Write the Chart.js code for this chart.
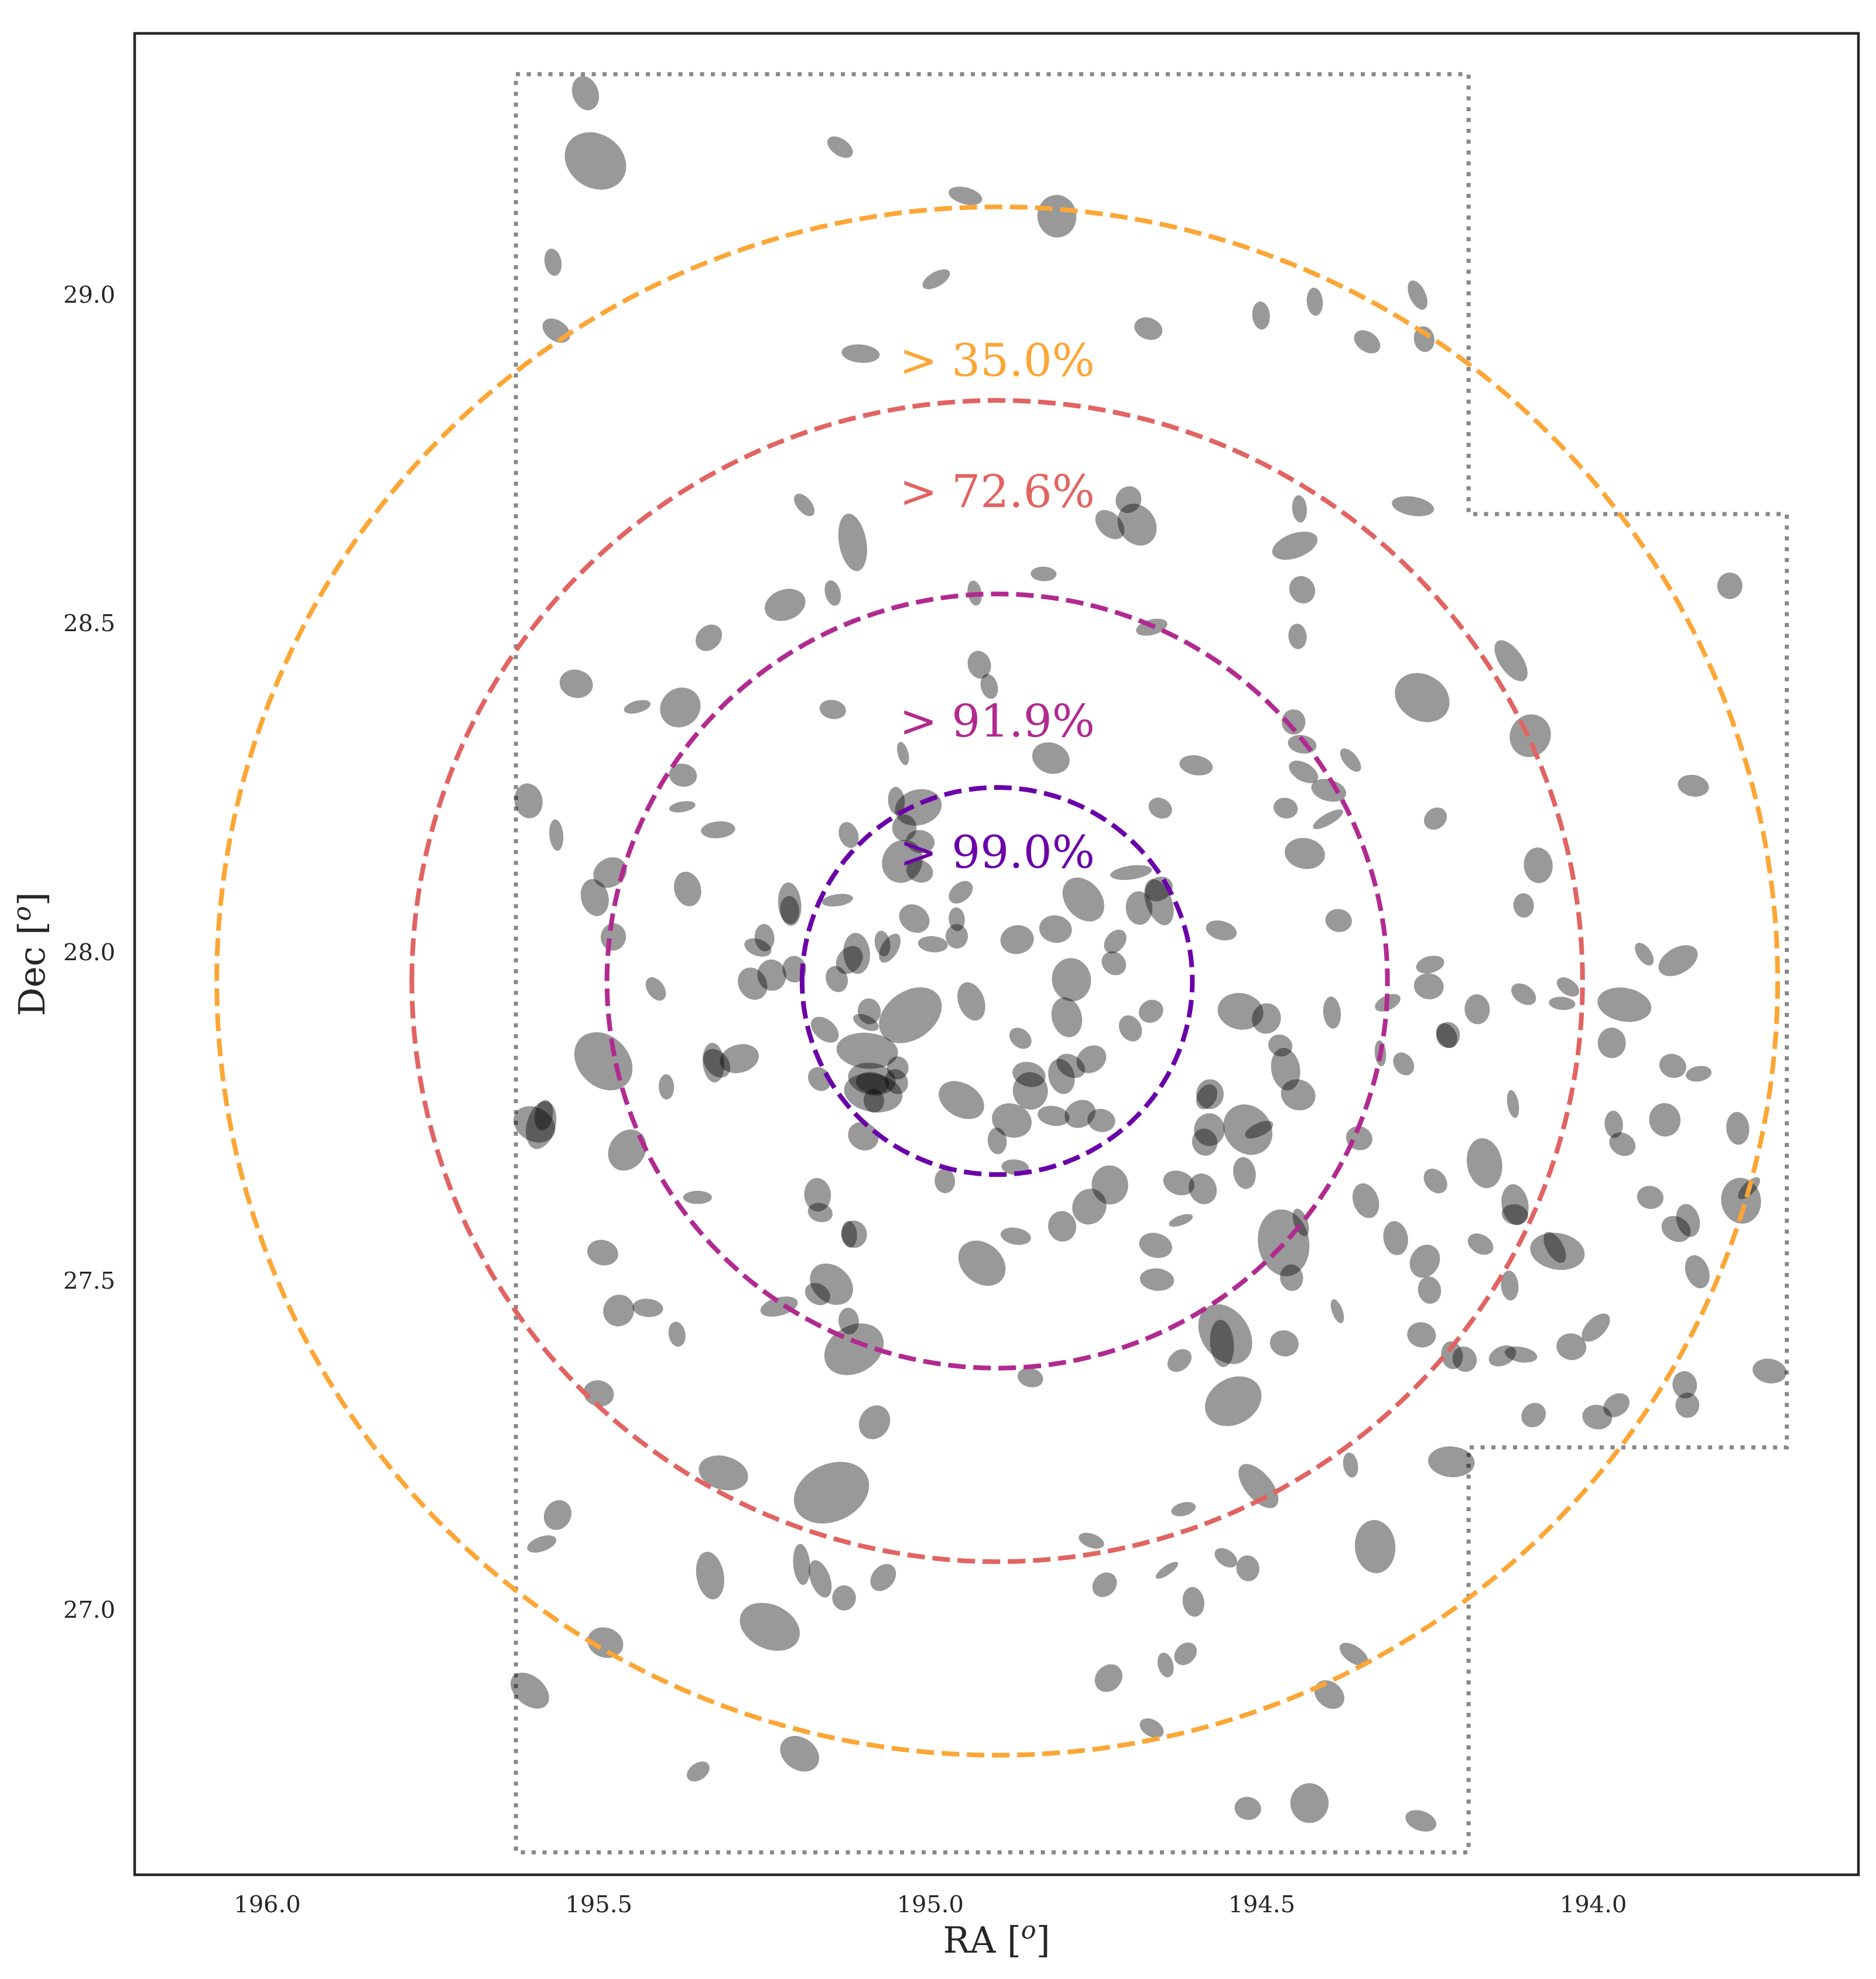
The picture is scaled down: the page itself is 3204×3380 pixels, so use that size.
<!DOCTYPE html>
<html>
<head>
<meta charset="utf-8">
<script src="https://cdn.jsdelivr.net/npm/chart.js@4.4.1/dist/chart.umd.min.js"></script>
<style>
  html, body { margin: 0; padding: 0; background: #fff; }
  canvas { display: block; }
</style>
</head>
<body>
<canvas id="sky" width="3204" height="3380"></canvas>
<script>
// Galaxies: centre (deg), semi-axes (arcsec), angle of major axis (deg, ccw on the plot)
const galRA = [
  195.520, 195.505, 195.569, 195.564, 195.136, 194.947, 194.809, 194.991, 194.671, 194.501,
  195.105, 195.190, 195.117, 194.701, 194.729, 194.688, 194.829, 195.147, 195.219, 194.933,
  194.666, 195.334, 194.420, 194.265, 194.341, 194.255, 194.443, 194.272, 194.450, 194.439,
  194.446, 193.794, 195.534, 195.442, 195.377, 195.373, 195.374, 195.606, 195.564, 195.483,
  195.506, 195.366, 195.478, 195.414, 195.493, 195.398, 195.597, 195.587, 195.583, 195.457,
  195.351, 195.320, 194.926, 194.911, 195.147, 195.041, 194.818, 194.599, 194.653, 195.051,
  195.018, 195.039, 195.015, 195.123, 195.042, 195.016, 194.697, 194.954, 194.769, 195.140,
  195.212, 195.212, 194.685, 194.655, 194.655, 195.024, 194.960, 194.811, 194.869, 194.561,
  194.996, 194.960, 194.721, 194.723, 195.072, 195.061, 195.111, 195.122, 195.141, 195.250,
  195.260, 195.239, 195.205, 195.268, 194.787, 194.794, 194.938, 195.030, 195.092, 195.097,
  195.159, 194.667, 194.698, 194.532, 194.493, 194.864, 195.095, 195.327, 195.288, 195.322,
  195.088, 195.086, 195.087, 195.085, 195.049, 195.051, 195.167, 194.953, 194.851, 194.849,
  194.802, 194.788, 194.757, 194.877, 194.899, 194.814, 194.774, 194.742, 195.101, 194.872,
  194.978, 194.578, 194.583, 194.579, 194.586, 194.521, 194.504, 194.526, 194.625, 194.589,
  194.729, 194.760, 194.801, 194.622, 194.871, 195.170, 195.166, 195.115, 195.122, 194.467,
  194.441, 194.124, 194.258, 194.095, 194.452, 194.439, 194.366, 194.437, 194.399, 194.464,
  194.400, 194.238, 193.849, 194.435, 194.083, 194.105, 194.384, 193.923, 193.872, 194.246,
  194.248, 194.310, 194.394, 194.105, 194.038, 194.047, 193.953, 194.175, 194.219, 194.221,
  193.972, 194.321, 194.286, 193.880, 193.841, 194.472, 194.464, 194.445, 194.121, 193.969,
  193.956, 193.892, 193.782, 194.353, 194.164, 194.238, 194.343, 194.118, 194.118, 193.914,
  193.777, 193.765, 193.857, 193.875, 194.298, 194.170, 194.054, 194.058, 194.254, 195.494,
  195.470, 195.426, 195.382, 195.500, 195.562, 195.586, 195.490, 195.604, 195.350, 194.660,
  194.922, 195.149, 195.170, 195.228, 195.123, 195.115, 194.658, 194.555, 194.560, 194.624,
  194.849, 194.543, 195.084, 195.312, 195.149, 194.505, 194.618, 194.757, 195.332, 195.194,
  195.166, 195.071, 195.130, 195.242, 194.643, 194.554, 194.521, 194.737, 194.603, 194.615,
  194.645, 194.731, 194.666, 195.197, 194.521, 194.455, 194.386, 194.466, 194.247, 194.126,
  193.843, 194.259, 193.996, 194.033, 194.213, 194.194, 194.137, 194.109, 193.862, 193.858,
  193.734, 194.090, 193.994, 193.965, 194.366, 194.214, 194.329, 194.361, 194.398, 194.428, 194.260
];
const galDec = [
  29.309, 29.206, 29.052, 28.948, 29.227, 29.153, 29.122, 29.026, 28.951, 28.971,
  28.913, 28.683, 28.626, 28.691, 28.653, 28.653, 28.578, 28.549, 28.531, 28.549,
  28.497, 28.481, 28.992, 29.002, 28.931, 28.935, 28.677, 28.681, 28.621, 28.554,
  28.483, 28.560, 28.411, 28.376, 28.375, 28.272, 28.224, 28.233, 28.181, 28.124,
  28.086, 28.099, 28.026, 27.947, 27.837, 27.798, 27.741, 27.740, 27.755, 27.702,
  27.630, 28.189, 28.440, 28.407, 28.372, 28.305, 28.298, 28.287, 28.222, 28.233,
  28.223, 28.192, 28.171, 28.181, 28.141, 28.126, 28.124, 28.094, 28.083, 28.082,
  28.076, 28.067, 28.070, 28.079, 28.099, 28.054, 28.053, 28.038, 28.022, 28.036,
  28.015, 28.027, 28.019, 27.986, 28.016, 28.009, 28.001, 27.991, 27.962, 28.025,
  28.010, 27.968, 27.977, 27.955, 27.961, 27.904, 27.928, 27.907, 27.913, 27.896,
  27.885, 27.913, 27.887, 27.913, 27.902, 27.872, 27.853, 27.835, 27.841, 27.834,
  27.810, 27.789, 27.804, 27.777, 27.827, 27.806, 27.810, 27.778, 27.817, 27.792,
  27.814, 27.830, 27.840, 27.747, 27.716, 27.754, 27.757, 27.747, 27.723, 27.676,
  27.655, 27.787, 27.783, 27.733, 27.714, 27.733, 27.733, 27.667, 27.652, 27.643,
  27.649, 27.616, 27.586, 27.595, 27.571, 27.634, 27.607, 27.574, 27.574, 27.561,
  27.592, 28.446, 28.390, 28.332, 28.353, 28.319, 28.295, 28.277, 28.249, 28.222,
  28.205, 28.206, 28.256, 28.153, 28.135, 28.074, 28.051, 28.000, 27.990, 27.984,
  27.951, 27.926, 27.911, 27.939, 27.950, 27.925, 27.923, 27.916, 27.877, 27.876,
  27.865, 27.849, 27.833, 27.830, 27.818, 27.861, 27.825, 27.786, 27.772, 27.741,
  27.711, 27.748, 27.735, 27.720, 27.682, 27.655, 27.625, 27.619, 27.604, 27.630,
  27.625, 27.644, 27.595, 27.582, 27.568, 27.559, 27.548, 27.554, 27.533, 27.546,
  27.458, 27.462, 27.422, 27.332, 27.147, 27.103, 26.953, 26.880, 26.757, 27.557,
  27.530, 27.498, 27.483, 27.464, 27.442, 27.399, 27.505, 27.422, 27.408, 27.382,
  27.356, 27.320, 27.288, 27.211, 27.181, 27.191, 27.156, 27.108, 27.055, 27.072,
  27.050, 27.052, 27.021, 26.977, 27.063, 27.082, 27.066, 27.041, 27.015, 26.936,
  26.919, 26.899, 26.823, 26.784, 26.701, 27.508, 27.457, 27.408, 27.489, 27.496,
  27.517, 27.421, 27.432, 27.403, 27.390, 27.384, 27.389, 27.391, 27.345, 27.314,
  27.366, 27.299, 27.296, 27.314, 27.223, 27.228, 27.099, 26.935, 26.874, 26.709, 26.682
];
const galMaj = [
  96, 178, 75, 84, 79, 94, 117, 84, 79, 77,
  105, 73, 159, 75, 94, 121, 71, 71, 115, 69,
  88, 80, 77, 86, 79, 71, 75, 117, 130, 77,
  70, 73, 92, 75, 115, 77, 73, 96, 86, 96,
  103, 96, 75, 71, 178, 69, 121, 134, 84, 119,
  79, 94, 77, 69, 73, 65, 105, 92, 67, 77,
  130, 73, 79, 73, 121, 75, 115, 75, 134, 86,
  119, 77, 92, 132, 79, 88, 65, 90, 92, 86,
  82, 67, 73, 71, 71, 88, 113, 84, 73, 75,
  77, 86, 73, 92, 119, 111, 109, 188, 71, 75,
  88, 69, 75, 126, 84, 67, 169, 109, 109, 88,
  132, 161, 92, 65, 63, 71, 69, 134, 92, 103,
  98, 84, 86, 111, 73, 88, 88, 77, 86, 75,
  67, 82, 73, 90, 75, 146, 84, 88, 88, 86,
  107, 100, 84, 69, 84, 92, 69, 75, 73, 184,
  79, 130, 157, 119, 69, 79, 77, 88, 98, 67,
  94, 67, 86, 111, 98, 67, 73, 71, 117, 79,
  82, 75, 88, 75, 69, 73, 149, 82, 71, 73,
  84, 71, 67, 75, 71, 67, 117, 96, 77, 75,
  75, 92, 90, 73, 138, 75, 98, 113, 73, 73,
  126, 79, 92, 84, 94, 75, 151, 94, 94, 86,
  88, 84, 69, 84, 84, 84, 100, 121, 69, 92,
  142, 130, 73, 105, 73, 172, 94, 178, 130, 73,
  71, 163, 96, 138, 215, 146, 69, 73, 132, 113,
  107, 82, 69, 172, 73, 69, 71, 73, 82, 69,
  69, 82, 71, 115, 73, 73, 69, 79, 75, 82,
  94, 79, 96, 82, 77, 71, 79, 90, 75, 69,
  94, 71, 82, 77, 69, 128, 146, 90, 90, 109, 88
];
const galMin = [
  71, 146, 46, 56, 46, 46, 107, 40, 59, 48,
  50, 40, 75, 69, 63, 100, 40, 42, 84, 38,
  42, 64, 44, 44, 54, 56, 40, 52, 67, 69,
  50, 69, 77, 33, 105, 63, 29, 77, 38, 79,
  75, 73, 69, 46, 138, 42, 92, 79, 50, 98,
  36, 46, 63, 46, 52, 29, 84, 54, 54, 46,
  98, 67, 63, 52, 109, 61, 38, 50, 98, 33,
  63, 52, 73, 71, 63, 73, 44, 75, 79, 52,
  44, 61, 52, 61, 42, 46, 73, 65, 59, 54,
  46, 79, 65, 77, 107, 82, 71, 132, 63, 38,
  56, 61, 59, 100, 79, 50, 98, 59, 77, 63,
  88, 105, 59, 56, 59, 61, 59, 92, 67, 96,
  71, 59, 71, 92, 52, 54, 73, 63, 75, 42,
  56, 75, 52, 84, 69, 126, 36, 61, 65, 75,
  100, 92, 77, 27, 46, 73, 52, 71, 42, 140,
  38, 63, 126, 111, 65, 50, 38, 50, 59, 56,
  31, 56, 59, 84, 79, 56, 63, 38, 71, 46,
  71, 40, 48, 50, 42, 36, 92, 69, 65, 52,
  77, 31, 52, 65, 42, 59, 79, 84, 31, 50,
  61, 86, 63, 65, 96, 56, 69, 73, 56, 63,
  109, 33, 63, 67, 67, 52, 100, 46, 79, 69,
  84, 50, 46, 71, 73, 40, 82, 79, 46, 67,
  109, 100, 56, 50, 56, 130, 61, 130, 65, 54,
  52, 126, 82, 92, 157, 73, 36, 38, 75, 46,
  54, 61, 65, 121, 25, 44, 63, 61, 59, 54,
  42, 69, 46, 88, 63, 63, 29, 71, 63, 48,
  63, 69, 52, 73, 59, 65, 52, 42, 67, 65,
  67, 63, 67, 59, 40, 84, 111, 46, 69, 105, 54
];
const galAng = [
  110, 145, 100, 145, 145, 165, 95, 30, 160, 95,
  175, 130, 100, 60, 135, 125, 178, 105, 20, 100,
  15, 45, 95, 115, 145, 100, 95, 170, 20, 120,
  95, 90, 165, 15, 40, 170, 10, 100, 95, 30,
  105, 105, 80, 125, 135, 92, 150, 75, 80, 55,
  0, 5, 105, 105, 170, 105, 160, 170, 150, 95,
  15, 90, 170, 110, 60, 160, 8, 40, 130, 8,
  95, 95, 95, 110, 30, 145, 95, 170, 10, 165,
  175, 90, 50, 140, 100, 60, 95, 50, 110, 95,
  160, 100, 95, 120, 100, 105, 110, 35, 100, 155,
  140, 30, 120, 170, 70, 140, 175, 95, 15, 130,
  170, 170, 170, 95, 90, 120, 130, 150, 165, 100,
  105, 150, 35, 160, 95, 170, 30, 170, 150, 175,
  95, 90, 60, 90, 110, 130, 25, 100, 160, 115,
  100, 60, 100, 20, 170, 95, 165, 100, 95, 100,
  110, 125, 150, 60, 90, 170, 130, 150, 165, 165,
  30, 40, 170, 170, 95, 95, 170, 125, 30, 15,
  170, 25, 95, 145, 145, 175, 170, 95, 90, 120,
  90, 95, 125, 160, 10, 160, 100, 160, 100, 95,
  150, 100, 95, 160, 100, 130, 110, 100, 170, 170,
  100, 45, 105, 150, 100, 150, 170, 120, 60, 165,
  60, 175, 100, 165, 60, 20, 160, 140, 35, 165,
  140, 140, 150, 15, 95, 30, 175, 125, 95, 40,
  165, 30, 60, 165, 25, 130, 15, 160, 100, 95,
  110, 50, 90, 155, 35, 145, 100, 45, 100, 45,
  105, 45, 150, 145, 170, 100, 110, 165, 100, 95,
  110, 170, 45, 170, 100, 120, 25, 170, 100, 90,
  170, 45, 170, 35, 100, 175, 95, 145, 140, 90, 160
];

// survey footprint outline
const footRA  = [195.625, 194.188, 194.188, 193.708, 193.708, 194.188, 194.188, 195.625, 195.625];
const footDec = [29.338, 29.338, 28.669, 28.669, 27.250, 27.250, 26.634, 26.634, 29.338];

// probability rings
const ringCenter = [194.899, 27.959];
const ringRadius = [1.1772, 0.8829, 0.5886, 0.2943];
const ringLabels = ['> 35.0%', '> 72.6%', '> 91.9%', '> 99.0%'];
const ringColors = ['#fca636', '#e16462', '#b12a90', '#6a00a8'];
const labelDec = [28.879, 28.680, 28.331, 28.131];

const xTicks = [196.0, 195.5, 195.0, 194.5, 194.0];
const yTicks = [27.0, 27.5, 28.0, 28.5, 29.0];

const SERIF = '"DejaVu Serif", "Liberation Serif", serif';
const INK = '#262626';

const n = Math.min(galRA.length, galDec.length, galMaj.length, galMin.length, galAng.length);
const galaxies = [];
for (let i = 0; i < n; i++) galaxies.push({ x: galRA[i], y: galDec[i] });

const footprint = footRA.map((ra, i) => ({ x: ra, y: footDec[i] }));

function ringPoints(r) {
  const pts = [];
  for (let k = 0; k <= 360; k++) {
    const t = k * Math.PI / 180;
    pts.push({ x: ringCenter[0] + r * Math.cos(t), y: ringCenter[1] + r * Math.sin(t) });
  }
  return pts;
}

const ringSets = ringRadius.map((r, i) => ({
  label: 'ring' + i,
  data: ringPoints(r),
  showLine: true,
  borderColor: ringColors[i],
  borderWidth: 8,
  borderDash: [30, 13],
  pointRadius: 0,
  fill: false,
  tension: 0,
  order: 1
}));

// draw the galaxies as ellipses right after their (invisible) scatter points
const ellipsePlugin = {
  id: 'ellipses',
  afterDatasetDraw(chart, args) {
    if (chart.data.datasets[args.index].label !== 'galaxies') return;
    const ys = chart.scales.y;
    // one degree of Dec in pixels (values kept inside the axis range)
    const pxPerDeg = Math.abs(ys.getPixelForValue(27) - ys.getPixelForValue(28));
    const ca = chart.chartArea;
    const ctx = chart.ctx;
    ctx.save();
    ctx.beginPath();
    ctx.rect(ca.left, ca.top, ca.right - ca.left, ca.bottom - ca.top);
    ctx.clip();
    ctx.fillStyle = 'rgba(0,0,0,0.4)';
    args.meta.data.forEach((el, i) => {
      const rx = galMaj[i] / 3600 * pxPerDeg;
      const ry = galMin[i] / 3600 * pxPerDeg;
      ctx.beginPath();
      ctx.ellipse(el.x, el.y, rx, ry, -galAng[i] * Math.PI / 180, 0, Math.PI * 2);
      ctx.fill();
    });
    ctx.restore();
  }
};

const decorPlugin = {
  id: 'decor',
  afterDatasetsDraw(chart) {
    const ctx = chart.ctx;
    const xs = chart.scales.x, ys = chart.scales.y;
    ctx.save();
    ctx.font = '77px ' + SERIF;
    ctx.textAlign = 'center';
    ctx.textBaseline = 'alphabetic';
    ringLabels.forEach((t, i) => {
      ctx.fillStyle = ringColors[i];
      ctx.fillText(t, xs.getPixelForValue(ringCenter[0]), ys.getPixelForValue(labelDec[i]));
    });
    ctx.restore();
  },
  afterDraw(chart) {
    const ctx = chart.ctx;
    const ca = chart.chartArea;
    ctx.save();
    ctx.strokeStyle = INK;
    ctx.lineWidth = 4.5;
    ctx.strokeRect(ca.left, ca.top, ca.right - ca.left, ca.bottom - ca.top);

    // axis titles with a superscript (math italic) o
    function titleWithSup(main, x, y) {
      const big = '61px ' + SERIF, small = 'italic 43px ' + SERIF;
      ctx.font = big;
      const w1 = ctx.measureText(main + ' [').width;
      const w3 = ctx.measureText(']').width;
      ctx.font = small;
      const w2 = ctx.measureText('o').width;
      let cx = x - (w1 + w2 + w3) / 2;
      ctx.textAlign = 'left';
      ctx.textBaseline = 'alphabetic';
      ctx.fillStyle = INK;
      ctx.font = big;
      ctx.fillText(main + ' [', cx, y);
      ctx.font = small;
      ctx.fillText('o', cx + w1, y - 24);
      ctx.font = big;
      ctx.fillText(']', cx + w1 + w2, y);
    }
    titleWithSup('RA', (ca.left + ca.right) / 2, 3335);
    ctx.save();
    ctx.translate(76, (ca.top + ca.bottom) / 2);
    ctx.rotate(-Math.PI / 2);
    titleWithSup('Dec', 0, 0);
    ctx.restore();
    ctx.restore();
  }
};

new Chart(document.getElementById('sky').getContext('2d'), {
  type: 'scatter',
  data: {
    datasets: [
      ...ringSets,
      { label: 'galaxies', data: galaxies, pointRadius: 0, pointHoverRadius: 0, order: 2 },
      {
        label: 'footprint',
        data: footprint,
        showLine: true,
        borderColor: '#888888',
        borderWidth: 7,
        borderDash: [7, 11.5],
        pointRadius: 0,
        fill: false,
        order: 3
      }
    ]
  },
  options: {
    responsive: false,
    devicePixelRatio: 1,
    animation: false,
    events: [],
    layout: { padding: { top: 30, right: 30, left: 0, bottom: 0 } },
    plugins: { legend: { display: false }, tooltip: { enabled: false } },
    scales: {
      x: {
        type: 'linear',
        reverse: true,
        min: 193.6,
        max: 196.2,
        grid: { display: false, drawTicks: false },
        border: { display: false },
        afterBuildTicks: s => { s.ticks = xTicks.map(v => ({ value: v })); },
        afterFit: s => { s.height = 178; },
        ticks: {
          padding: 30,
          color: INK,
          font: { family: SERIF, size: 40 },
          maxRotation: 0,
          autoSkip: false,
          callback: v => v.toFixed(1)
        }
      },
      y: {
        type: 'linear',
        min: 26.6,
        max: 29.4,
        grid: { display: false, drawTicks: false },
        border: { display: false },
        afterBuildTicks: s => { s.ticks = yTicks.map(v => ({ value: v })); },
        afterFit: s => { s.width = 230; },
        ticks: {
          padding: 33,
          color: INK,
          font: { family: SERIF, size: 40 },
          autoSkip: false,
          callback: v => v.toFixed(1)
        }
      }
    }
  },
  plugins: [ellipsePlugin, decorPlugin]
});
</script>
</body>
</html>
